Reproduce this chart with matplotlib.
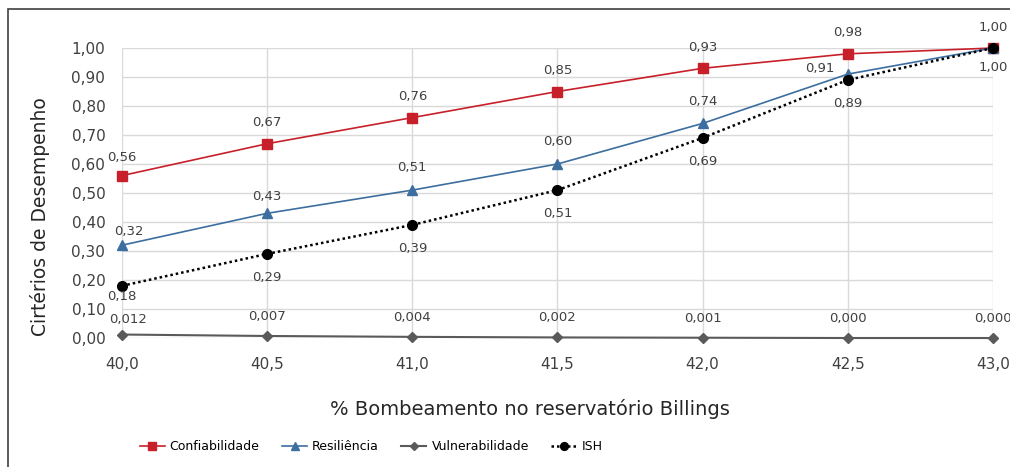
import matplotlib.pyplot as plt
from matplotlib.patches import Rectangle

x = [40.0, 40.5, 41.0, 41.5, 42.0, 42.5, 43.0]
confiabilidade = [0.56, 0.67, 0.76, 0.85, 0.93, 0.98, 1.00]
resiliencia = [0.32, 0.43, 0.51, 0.60, 0.74, 0.91, 1.00]
vulnerabilidade = [0.012, 0.007, 0.004, 0.002, 0.001, 0.000, 0.000]
ish = [0.18, 0.29, 0.39, 0.51, 0.69, 0.89, 1.00]
yticks = [i / 10 for i in range(11)]


def br(v, nd=2):
    return f"{v:.{nd}f}".replace(".", ",")


fig = plt.figure(figsize=(10.10, 4.67), dpi=100)
ax = fig.add_axes([0.1208, 0.2762, 0.8623, 0.6210])

red = "#C8202A"
blue = "#3C6E9F"
gray = "#5A5A5A"

ax.plot(x, confiabilidade, color=red, lw=1.2, marker="s", ms=7, clip_on=False, zorder=4,
        label="Confiabilidade")
ax.plot(x, resiliencia, color=blue, lw=1.2, marker="^", ms=7, clip_on=False, zorder=4,
        label="Resiliência")
ax.plot(x, vulnerabilidade, color=gray, lw=1.5, marker="D", ms=5.5, clip_on=False, zorder=4,
        label="Vulnerabilidade")
ax.plot(x, ish, color="black", lw=1.8, ls=(0, (1, 1.2)), marker="o", ms=7, clip_on=False,
        zorder=5, label="ISH")

lab = dict(fontsize=9.5, color="#404040", ha="center", va="center", zorder=6)
for i, (xi, v) in enumerate(zip(x, confiabilidade)):
    off = (0, 15)
    if i == 0:
        off = (0, 13)
    ax.annotate(br(v), (xi, v), xytext=off, textcoords="offset points", **lab)
for i, (xi, v) in enumerate(zip(x[:-1], resiliencia[:-1])):
    off = (0, 16)
    if i == 0:
        off = (5, 10)
    elif i == 1:
        off = (0, 12)
    elif i == 5:
        off = (-20, 4)
    ax.annotate(br(v), (xi, v), xytext=off, textcoords="offset points", **lab)
for i, (xi, v) in enumerate(zip(x, ish)):
    off = (0, -17)
    if i == 0:
        off = (0, -8)
    elif i == 6:
        off = (0, -14)
    ax.annotate(br(v), (xi, v), xytext=off, textcoords="offset points", **lab)
for i, (xi, v) in enumerate(zip(x, vulnerabilidade)):
    off = (0, 14)
    if i == 0:
        off = (4, 11)
    ax.annotate(br(v, 3), (xi, v), xytext=off, textcoords="offset points", **lab)

ax.set_xlim(40, 43)
ax.set_ylim(0, 1)
ax.set_xticks(x)
ax.set_xticklabels([br(v, 1) for v in x], fontsize=11, color="#404040")
ax.set_yticks(yticks)
ax.set_yticklabels([br(v) for v in yticks], fontsize=11, color="#404040")
ax.tick_params(axis="x", length=0, pad=14)
ax.tick_params(axis="y", length=0, pad=12)
ax.grid(True, color="#D9D9D9", lw=1)
ax.set_axisbelow(True)
for s in ax.spines.values():
    s.set_visible(False)

ax.set_ylabel("Cirtérios de Desempenho", fontsize=13.5, color="#262626")
ax.yaxis.set_label_coords(-0.083, 0.42)
ax.set_xlabel("% Bombeamento no reservatório Billings", fontsize=14, color="#262626")
ax.xaxis.set_label_coords(0.468, -0.21)

fig.legend(loc="center", bbox_to_anchor=(371 / 1010, 1 - 447 / 467), ncol=4, frameon=False,
           fontsize=9, handlelength=2.0, columnspacing=1.8, handletextpad=0.4,
           markerscale=0.8)

fig.patches.append(Rectangle((0.008, -0.01), 1.2, 0.99, transform=fig.transFigure,
                             fill=False, edgecolor="#404040", lw=1.2))

fig.savefig("out.png", dpi=100)
